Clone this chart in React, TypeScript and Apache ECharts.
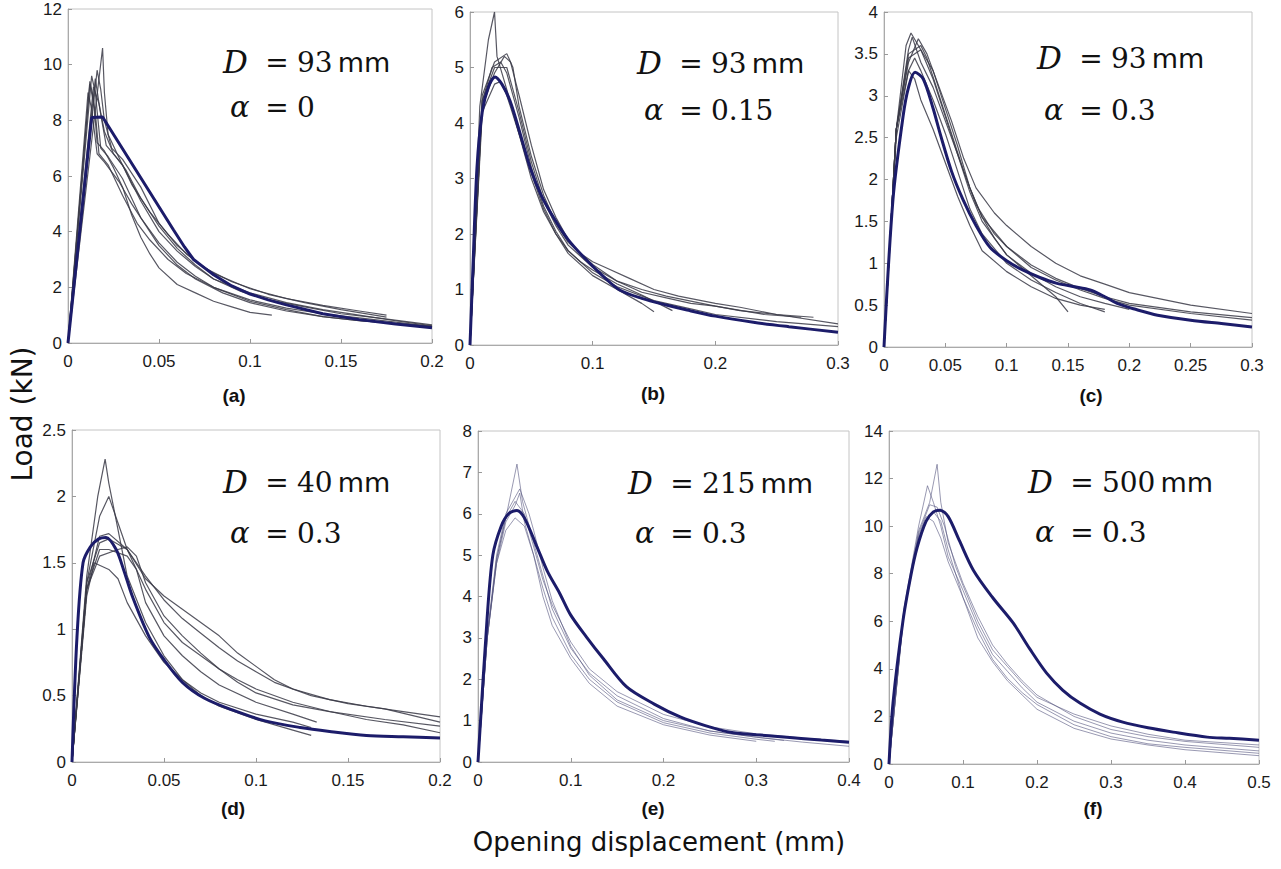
import React, { useEffect, useRef } from "react";
import * as echarts from "echarts";

type Pt = [number, number];

// ---------- data ----------
const modelA: Pt[] = [[0,0],[0.013,8.1],[0.019,8.12],[0.058,4.06],[0.064,3.45],[0.069,3.0],[0.075,2.7],[0.08,2.45],[0.09,2.05],[0.1,1.76],[0.11,1.55],[0.12,1.37],[0.14,1.05],[0.16,0.84],[0.18,0.68],[0.2,0.55]];
const expA: Pt[][] = [
  [[0,0],[0.012,9.4],[0.014,8.8],[0.016,7.2],[0.02,6.9],[0.025,6.3],[0.03,5.6],[0.035,4.6],[0.04,3.8],[0.045,3.2],[0.05,2.7],[0.06,2.1],[0.07,1.8],[0.08,1.5],[0.09,1.3],[0.1,1.1],[0.112,1.0]],
  [[0,0],[0.013,9.6],[0.015,9.0],[0.018,7.0],[0.022,6.7],[0.03,5.9],[0.04,4.5],[0.05,3.6],[0.06,2.9],[0.07,2.4],[0.08,2.0],[0.1,1.5],[0.12,1.2],[0.14,0.95],[0.16,0.8],[0.18,0.7],[0.2,0.58]],
  [[0,0],[0.019,10.6],[0.02,9.0],[0.022,7.5],[0.027,6.8],[0.035,5.7],[0.045,4.7],[0.055,3.9],[0.065,3.2],[0.075,2.7],[0.09,2.2],[0.11,1.75],[0.13,1.45],[0.15,1.2],[0.175,0.93]],
  [[0,0],[0.014,9.2],[0.017,8.6],[0.02,7.6],[0.025,6.8],[0.032,6.2],[0.04,5.2],[0.05,4.2],[0.06,3.4],[0.07,2.8],[0.08,2.3],[0.1,1.8],[0.12,1.45],[0.14,1.2],[0.16,1.0],[0.18,0.8],[0.2,0.62]],
  [[0,0],[0.011,9.0],[0.013,8.4],[0.016,6.8],[0.02,6.5],[0.028,5.8],[0.035,5.0],[0.042,4.3],[0.05,3.5],[0.06,2.8],[0.07,2.3],[0.085,1.8],[0.1,1.45],[0.12,1.15],[0.14,0.95],[0.16,0.8],[0.18,0.7],[0.2,0.6]],
  [[0,0],[0.015,9.5],[0.018,8.2],[0.021,7.1],[0.03,6.4],[0.04,5.1],[0.05,4.0],[0.06,3.3],[0.07,2.75],[0.08,2.3],[0.095,1.85],[0.11,1.55],[0.13,1.3],[0.15,1.05],[0.17,0.9],[0.2,0.65]],
  [[0,0],[0.016,9.8],[0.018,9.1],[0.02,8.0],[0.024,7.0],[0.03,6.6],[0.04,5.6],[0.05,4.3],[0.06,3.5],[0.07,2.95],[0.08,2.5],[0.1,1.95],[0.12,1.6],[0.14,1.35],[0.16,1.15],[0.175,1.0]],
  [[0,0],[0.012,9.3],[0.015,8.3],[0.017,6.8],[0.022,6.4],[0.03,5.3],[0.038,4.3],[0.045,3.7],[0.055,3.0],[0.065,2.5],[0.08,2.0],[0.1,1.55],[0.12,1.25],[0.14,1.05],[0.16,0.9],[0.18,0.75],[0.2,0.6]],
];

const modelB: Pt[] = [[0,0],[0.0024,1.4],[0.0057,3.2],[0.01,4.2],[0.015,4.65],[0.0204,4.83],[0.026,4.7],[0.0326,4.4],[0.041,3.8],[0.049,3.2],[0.058,2.7],[0.068,2.3],[0.08,1.9],[0.095,1.53],[0.108,1.25],[0.122,0.99],[0.14,0.84],[0.16,0.72],[0.177,0.63],[0.2,0.52],[0.231,0.41],[0.26,0.33],[0.3,0.23]];
const expB: Pt[][] = [
  [[0,0],[0.008,4.3],[0.015,5.5],[0.02,6.0],[0.022,5.2],[0.03,4.6],[0.04,3.8],[0.05,3.0],[0.06,2.4],[0.07,2.0],[0.08,1.65],[0.1,1.25],[0.12,1.0],[0.14,0.75],[0.15,0.6]],
  [[0,0],[0.01,4.5],[0.02,5.1],[0.03,5.25],[0.035,5.0],[0.04,4.3],[0.05,3.4],[0.06,2.7],[0.07,2.2],[0.08,1.85],[0.1,1.45],[0.12,1.15],[0.14,0.95],[0.16,0.85],[0.18,0.75],[0.2,0.7],[0.22,0.62],[0.25,0.55],[0.28,0.5]],
  [[0,0],[0.01,4.4],[0.018,5.0],[0.025,5.1],[0.03,4.9],[0.04,4.1],[0.05,3.2],[0.06,2.5],[0.07,2.05],[0.08,1.7],[0.09,1.5],[0.1,1.35],[0.12,1.1],[0.14,0.9],[0.165,0.62]],
  [[0,0],[0.01,4.3],[0.02,4.9],[0.028,5.2],[0.033,5.1],[0.04,4.5],[0.05,3.6],[0.06,2.8],[0.07,2.3],[0.08,1.9],[0.09,1.65],[0.1,1.5],[0.11,1.4],[0.13,1.2],[0.15,1.0],[0.17,0.88],[0.2,0.75],[0.22,0.68],[0.25,0.55],[0.3,0.38]],
  [[0,0],[0.01,4.2],[0.02,4.7],[0.025,4.75],[0.03,4.5],[0.04,3.8],[0.05,3.1],[0.06,2.45],[0.07,2.0],[0.08,1.7],[0.1,1.3],[0.12,1.05],[0.15,0.8],[0.18,0.65],[0.2,0.55],[0.25,0.42],[0.3,0.33]],
  [[0,0],[0.01,4.4],[0.02,5.0],[0.03,5.0],[0.04,4.2],[0.05,3.3],[0.06,2.6],[0.07,2.15],[0.08,1.8],[0.1,1.4],[0.12,1.15],[0.14,1.0],[0.16,0.88],[0.2,0.7],[0.24,0.55],[0.27,0.5]],
];

const modelC: Pt[] = [[0,0],[0.0073,1.76],[0.0155,2.75],[0.02,3.1],[0.0253,3.28],[0.032,3.2],[0.04,2.85],[0.0457,2.55],[0.055,2.1],[0.0644,1.76],[0.075,1.45],[0.0864,1.19],[0.1,1.03],[0.113,0.92],[0.127,0.83],[0.141,0.76],[0.155,0.72],[0.168,0.68],[0.18,0.6],[0.19,0.52],[0.205,0.45],[0.223,0.38],[0.25,0.32],[0.275,0.28],[0.3,0.24]];
const expC: Pt[][] = [
  [[0,0],[0.01,2.6],[0.02,3.55],[0.023,3.7],[0.03,3.4],[0.04,3.1],[0.05,2.7],[0.06,2.3],[0.07,1.9],[0.08,1.55],[0.09,1.3],[0.1,1.1],[0.12,0.85],[0.14,0.6],[0.15,0.42]],
  [[0,0],[0.01,2.6],[0.02,3.4],[0.028,3.68],[0.035,3.5],[0.045,3.1],[0.055,2.7],[0.065,2.25],[0.075,1.9],[0.09,1.6],[0.1,1.45],[0.12,1.2],[0.14,1.0],[0.16,0.85],[0.18,0.75],[0.2,0.65],[0.25,0.5],[0.3,0.4]],
  [[0,0],[0.01,2.5],[0.02,3.3],[0.025,3.45],[0.03,3.3],[0.04,2.95],[0.05,2.55],[0.06,2.1],[0.07,1.65],[0.08,1.35],[0.1,1.0],[0.12,0.8],[0.14,0.65],[0.16,0.52],[0.18,0.42]],
  [[0,0],[0.01,2.6],[0.02,3.45],[0.03,3.55],[0.04,3.3],[0.05,2.85],[0.06,2.4],[0.07,1.9],[0.08,1.55],[0.1,1.2],[0.12,0.95],[0.14,0.8],[0.16,0.68],[0.18,0.58],[0.2,0.5],[0.25,0.4],[0.3,0.32]],
  [[0,0],[0.01,2.6],[0.02,3.3],[0.025,3.2],[0.03,2.95],[0.04,2.6],[0.05,2.2],[0.06,1.8],[0.07,1.45],[0.08,1.15],[0.1,0.9],[0.12,0.72],[0.14,0.58],[0.16,0.5],[0.18,0.45]],
  [[0,0],[0.01,2.6],[0.02,3.5],[0.03,3.6],[0.035,3.45],[0.045,3.0],[0.055,2.55],[0.065,2.1],[0.075,1.7],[0.09,1.35],[0.1,1.2],[0.12,0.98],[0.14,0.82],[0.16,0.7],[0.18,0.6],[0.2,0.52],[0.25,0.42],[0.3,0.35]],
  [[0,0],[0.01,2.6],[0.018,3.6],[0.022,3.75],[0.03,3.55],[0.04,3.2],[0.05,2.75],[0.06,2.3],[0.07,1.85],[0.08,1.5],[0.1,1.1],[0.12,0.88],[0.14,0.72],[0.16,0.6],[0.18,0.52],[0.2,0.45]],
];

const modelD: Pt[] = [[0,0],[0.0027,0.94],[0.006,1.5],[0.01,1.62],[0.0145,1.68],[0.0185,1.69],[0.024,1.6],[0.028,1.45],[0.033,1.24],[0.042,0.94],[0.05,0.77],[0.06,0.6],[0.072,0.48],[0.0875,0.39],[0.105,0.31],[0.124,0.26],[0.14,0.23],[0.16,0.2],[0.18,0.19],[0.2,0.18]];
const expD: Pt[][] = [
  [[0,0],[0.008,1.4],[0.014,2.0],[0.018,2.28],[0.02,2.1],[0.025,1.75],[0.03,1.4],[0.04,1.05],[0.05,0.8],[0.06,0.62],[0.07,0.5],[0.08,0.42],[0.1,0.32],[0.12,0.24],[0.13,0.2]],
  [[0,0],[0.008,1.35],[0.015,1.85],[0.02,2.0],[0.025,1.8],[0.03,1.6],[0.04,1.38],[0.05,1.25],[0.06,1.15],[0.07,1.05],[0.08,0.95],[0.09,0.82],[0.1,0.72],[0.11,0.62],[0.12,0.55],[0.14,0.47],[0.16,0.42],[0.18,0.38],[0.2,0.34]],
  [[0,0],[0.008,1.3],[0.015,1.55],[0.025,1.6],[0.03,1.62],[0.035,1.55],[0.04,1.35],[0.05,1.1],[0.06,0.95],[0.07,0.82],[0.08,0.7],[0.09,0.6],[0.1,0.52],[0.12,0.43],[0.14,0.38],[0.17,0.32],[0.2,0.27]],
  [[0,0],[0.008,1.3],[0.015,1.6],[0.02,1.6],[0.03,1.55],[0.035,1.45],[0.04,1.2],[0.05,0.95],[0.06,0.8],[0.07,0.68],[0.08,0.58],[0.1,0.45],[0.12,0.36],[0.133,0.3]],
  [[0,0],[0.008,1.25],[0.012,1.5],[0.02,1.45],[0.025,1.38],[0.03,1.2],[0.04,0.95],[0.05,0.75],[0.06,0.62],[0.07,0.52],[0.08,0.45],[0.1,0.36],[0.12,0.3],[0.13,0.26]],
  [[0,0],[0.008,1.35],[0.015,1.65],[0.02,1.68],[0.03,1.6],[0.04,1.3],[0.05,1.05],[0.06,0.9],[0.07,0.8],[0.08,0.7],[0.09,0.62],[0.1,0.55],[0.12,0.45],[0.14,0.38],[0.16,0.32],[0.18,0.28],[0.2,0.22]],
  [[0,0],[0.008,1.3],[0.015,1.7],[0.02,1.72],[0.03,1.6],[0.04,1.4],[0.05,1.22],[0.06,1.08],[0.07,0.97],[0.08,0.86],[0.09,0.76],[0.1,0.68],[0.11,0.6],[0.13,0.5],[0.15,0.44],[0.17,0.4],[0.2,0.3]],
];

const modelE: Pt[] = [[0,0],[0.0097,3.43],[0.016,5.0],[0.025,5.7],[0.033,6.0],[0.042,6.08],[0.05,5.9],[0.0636,5.2],[0.075,4.6],[0.088,4.08],[0.1,3.55],[0.117,3.02],[0.135,2.5],[0.16,1.82],[0.19,1.4],[0.218,1.09],[0.245,0.88],[0.272,0.72],[0.3,0.66],[0.333,0.6],[0.37,0.53],[0.4,0.48]];
const expE: Pt[][] = [
  [[0,0],[0.01,3.0],[0.02,4.8],[0.03,5.8],[0.04,6.2],[0.045,6.5],[0.05,5.8],[0.06,5.0],[0.07,4.2],[0.08,3.5],[0.1,2.6],[0.12,2.0],[0.15,1.45],[0.2,0.95],[0.25,0.7],[0.3,0.55],[0.32,0.5]],
  [[0,0],[0.01,3.0],[0.02,4.9],[0.03,5.9],[0.042,7.2],[0.048,6.3],[0.06,5.3],[0.07,4.5],[0.08,3.7],[0.1,2.75],[0.12,2.15],[0.15,1.6],[0.2,1.05],[0.25,0.75],[0.3,0.6],[0.35,0.48],[0.4,0.38]],
  [[0,0],[0.01,3.0],[0.02,4.8],[0.03,5.6],[0.04,5.9],[0.05,5.7],[0.06,5.0],[0.07,4.0],[0.08,3.3],[0.1,2.5],[0.12,1.9],[0.15,1.35],[0.2,0.9],[0.25,0.65],[0.3,0.5]],
  [[0,0],[0.01,3.0],[0.02,4.9],[0.03,5.9],[0.04,6.3],[0.05,6.0],[0.06,5.2],[0.07,4.4],[0.08,3.8],[0.1,2.9],[0.12,2.25],[0.15,1.7],[0.2,1.15],[0.25,0.85],[0.3,0.68],[0.35,0.58],[0.4,0.5]],
  [[0,0],[0.01,3.1],[0.02,5.0],[0.03,6.0],[0.045,6.6],[0.055,6.0],[0.06,5.6],[0.07,4.7],[0.08,3.9],[0.1,2.8],[0.12,2.1],[0.15,1.5],[0.2,1.0],[0.25,0.75],[0.3,0.6],[0.33,0.52]],
];

const modelF: Pt[] = [[0,0],[0.0054,2.56],[0.019,6.05],[0.03,8.0],[0.038,9.1],[0.05,10.2],[0.06,10.6],[0.069,10.67],[0.08,10.4],[0.095,9.4],[0.114,8.15],[0.14,7.0],[0.168,5.92],[0.19,4.85],[0.213,3.82],[0.235,3.1],[0.258,2.56],[0.285,2.1],[0.316,1.76],[0.35,1.52],[0.384,1.34],[0.43,1.13],[0.46,1.08],[0.5,1.0]];
const expF: Pt[][] = [
  [[0,0],[0.02,6.5],[0.04,10.0],[0.052,11.7],[0.06,11.0],[0.07,10.0],[0.08,8.7],[0.1,7.3],[0.12,5.8],[0.14,4.6],[0.16,3.9],[0.18,3.2],[0.2,2.6],[0.25,1.8],[0.3,1.3],[0.35,1.0],[0.4,0.8],[0.5,0.55]],
  [[0,0],[0.02,6.3],[0.04,9.6],[0.05,10.4],[0.06,10.2],[0.07,9.5],[0.08,8.5],[0.1,7.0],[0.12,5.6],[0.14,4.4],[0.16,3.6],[0.18,3.0],[0.2,2.5],[0.25,1.65],[0.3,1.15],[0.35,0.85],[0.4,0.7],[0.5,0.45]],
  [[0,0],[0.02,6.4],[0.04,9.8],[0.055,11.0],[0.065,12.6],[0.07,11.0],[0.08,9.3],[0.1,7.6],[0.12,6.2],[0.14,5.0],[0.16,4.2],[0.18,3.5],[0.2,2.9],[0.25,2.0],[0.3,1.45],[0.35,1.15],[0.4,0.95],[0.5,0.7]],
  [[0,0],[0.02,6.3],[0.04,9.5],[0.05,10.2],[0.06,10.6],[0.07,10.2],[0.08,9.0],[0.1,7.0],[0.12,5.3],[0.14,4.3],[0.16,3.5],[0.18,2.9],[0.2,2.3],[0.25,1.5],[0.3,1.05],[0.35,0.8],[0.4,0.6],[0.5,0.35]],
  [[0,0],[0.02,6.4],[0.04,9.7],[0.055,10.9],[0.065,10.8],[0.075,10.0],[0.09,8.3],[0.1,7.5],[0.12,6.0],[0.14,4.8],[0.16,4.1],[0.18,3.4],[0.2,2.8],[0.25,2.1],[0.3,1.6],[0.35,1.25],[0.4,1.0],[0.5,0.8]],
];

const panelLetters = ["(a)", "(b)", "(c)", "(d)", "(e)", "(f)"];
const diameters = ["93", "93", "93", "40", "215", "500"];
const alphas = ["0", "0.15", "0.3", "0.3", "0.3", "0.3"];
const xMax = [0.2, 0.3, 0.3, 0.2, 0.4, 0.5];
const xStep = [0.05, 0.1, 0.05, 0.05, 0.1, 0.1];
const yMax = [12, 6, 4, 2.5, 8, 14];
const yStep = [2, 1, 0.5, 0.5, 1, 2];
const yTitle = "Load (kN)";
const xTitle = "Opening displacement (mm)";

const models = [modelA, modelB, modelC, modelD, modelE, modelF];
const experiments = [expA, expB, expC, expD, expE, expF];

// ---------- layout ----------
const boxes = [
  { l: 68, t: 9, w: 364, h: 334 },
  { l: 470, t: 12, w: 368, h: 333 },
  { l: 884, t: 12, w: 368, h: 335 },
  { l: 72, t: 430, w: 368, h: 332 },
  { l: 478, t: 431, w: 371, h: 331 },
  { l: 889, t: 431, w: 370, h: 333 },
];
const annX = [223, 637, 1037, 223, 628, 1028];
const annDY = [62, 63, 58, 482, 483, 482];
const annAY = [107, 110, 110, 533, 533, 532];
const letX = [234, 653, 1091, 233, 653, 1093];
const letY = [395, 393, 395, 808, 808, 808];

const NAVY = "#1c1c6a";

export default function App() {
  const ref = useRef<HTMLDivElement>(null);
  useEffect(() => {
    if (!ref.current) return;
    const chart = echarts.init(ref.current, undefined, { renderer: "svg" });

    const grid = boxes.map((b) => ({
      left: b.l, top: b.t, width: b.w, height: b.h,
      show: true, borderColor: "#c4c4c4", borderWidth: 1, backgroundColor: "#fff",
    }));
    const tickFont = { fontFamily: "Liberation Sans", fontSize: 17, color: "#1a1a1a" };
    const xAxis = boxes.map((_, i) => ({
      type: "value", gridIndex: i, min: 0, max: xMax[i], interval: xStep[i],
      axisLine: { show: true, lineStyle: { color: "#aaaaaa" } },
      axisTick: { show: true, inside: true, length: 4, lineStyle: { color: "#999" } },
      splitLine: { show: false },
      axisLabel: { ...tickFont, margin: 10 },
    }));
    const yAxis = boxes.map((_, i) => ({
      type: "value", gridIndex: i, min: 0, max: yMax[i], interval: yStep[i],
      axisLine: { show: true, lineStyle: { color: "#aaaaaa" } },
      axisTick: { show: true, inside: true, length: 4, lineStyle: { color: "#999" } },
      splitLine: { show: false },
      axisLabel: { ...tickFont, margin: 6 },
    }));

    const series: any[] = [];
    experiments.forEach((curves, i) => {
      const faint = i >= 4;
      curves.forEach((c) => {
        series.push({
          type: "line", xAxisIndex: i, yAxisIndex: i, data: c,
          showSymbol: false, silent: true,
          lineStyle: faint
            ? { color: "#55557f", width: 1, opacity: 0.6 }
            : { color: "#3a3a46", width: 1.2, opacity: 0.85 },
        });
      });
    });
    models.forEach((m, i) => {
      series.push({
        type: "line", xAxisIndex: i, yAxisIndex: i, data: m,
        showSymbol: false, silent: true, smooth: i === 0 ? false : 0.3,
        lineStyle: { color: NAVY, width: 3 }, z: 5,
      });
    });

    const rich = {
      v: { fontFamily: "DejaVu Serif", fontStyle: "italic", fontSize: 31, width: 34, fill: "#111" },
      a: { fontFamily: "DejaVu Serif", fontStyle: "italic", fontSize: 29, width: 27, fill: "#111" },
      e: { fontFamily: "DejaVu Serif", fontSize: 28, width: 40, align: "center", fill: "#111" },
      n: { fontFamily: "DejaVu Serif", fontSize: 28, fill: "#111" },
      u: { fontFamily: "DejaVu Sans", fontSize: 27, padding: [0, 0, 0, 5], fill: "#111" },
    };

    const graphic: any[] = [];
    boxes.forEach((_, i) => {
      graphic.push({
        type: "text", x: annX[i], y: annDY[i], z: 10,
        style: { text: `{v|D}{e|=}{n|${diameters[i]}}{u|mm}`, rich, verticalAlign: "middle", align: "left" },
      });
      graphic.push({
        type: "text", x: annX[i] + 7, y: annAY[i], z: 10,
        style: { text: `{a|α}{e|=}{n|${alphas[i]}}`, rich, verticalAlign: "middle", align: "left" },
      });
      graphic.push({
        type: "text", x: letX[i], y: letY[i], z: 10,
        style: {
          text: panelLetters[i], fontFamily: "Liberation Sans", fontWeight: "bold", fontSize: 19,
          fill: "#111", align: "center", verticalAlign: "middle",
        },
      });
    });
    graphic.push({
      type: "text", x: 22, y: 414, rotation: Math.PI / 2, z: 10,
      style: {
        text: yTitle, fontFamily: "DejaVu Sans", fontSize: 28, fill: "#111",
        align: "center", verticalAlign: "middle",
      },
    });
    graphic.push({
      type: "text", x: 659, y: 842, z: 10,
      style: {
        text: xTitle, fontFamily: "DejaVu Sans", fontSize: 26, fill: "#111",
        align: "center", verticalAlign: "middle",
      },
    });

    chart.setOption({
      animation: false,
      backgroundColor: "#fff",
      grid, xAxis, yAxis, series, graphic,
    });
    return () => chart.dispose();
  }, []);

  return (
    <div
      ref={ref}
      style={{ position: "absolute", left: 0, top: 0, width: 1281, height: 869 }}
    />
  );
}
